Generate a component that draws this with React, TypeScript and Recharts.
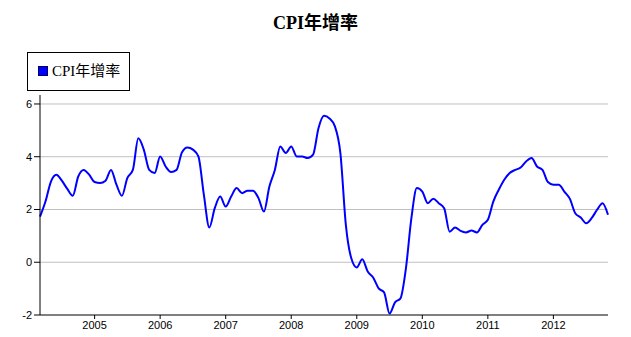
import React from "react";
import { LineChart, Line, XAxis, YAxis, ReferenceLine } from "recharts";

const TITLE = "CPI年增率";
const SERIES_NAME = "CPI年增率";

// Monthly values, 2004-03 .. 2012-11
const cpiValues: number[] = [
  1.73, 2.3, 3.06, 3.32, 3.09, 2.78, 2.52, 3.25, 3.5, 3.32,
  3.04, 3.0, 3.09, 3.5, 2.94, 2.52, 3.2, 3.5, 4.7, 4.27,
  3.5, 3.38, 4.01, 3.63, 3.42, 3.5, 4.17, 4.35, 4.27, 4.01,
  2.56, 1.32, 2.05, 2.49, 2.11, 2.49, 2.81, 2.62, 2.71, 2.71,
  2.43, 1.92, 2.87, 3.5, 4.39, 4.14, 4.39, 4.01, 4.01, 3.95,
  4.08, 5.09, 5.55, 5.45, 5.15, 4.14, 1.42, 0.15, -0.2, 0.11,
  -0.35, -0.58, -0.99, -1.14, -1.94, -1.52, -1.37, -0.23, 1.67, 2.81,
  2.68, 2.24, 2.41, 2.24, 2.05, 1.16, 1.32, 1.19, 1.13, 1.2,
  1.13, 1.42, 1.61, 2.3, 2.75, 3.13, 3.38, 3.5, 3.59, 3.82,
  3.95, 3.63, 3.5, 3.04, 2.94, 2.94, 2.68, 2.41, 1.86, 1.7,
  1.48, 1.67, 1.99, 2.24, 1.8,
];

const yearLabels: string[] = ["2005", "2006", "2007", "2008", "2009", "2010", "2011", "2012"];
const yearTickIndex: number[] = [10, 22, 34, 46, 58, 70, 82, 94];
const yTicks: number[] = [-2, 0, 2, 4, 6];
const gridValues: number[] = [0, 2, 4, 6];

const data = cpiValues.map((v, i) => ({ i, v }));

const tickStyle = { fontFamily: "'Liberation Sans', Arial, sans-serif", fontSize: 11, fill: "#000" };

export default function App() {
  return (
    <div style={{ position: "absolute", left: 0, top: 0, width: 631, height: 337, background: "#fff" }}>
      <div
        style={{
          position: "absolute",
          left: 0,
          width: 631,
          top: 12,
          textAlign: "center",
          fontFamily: "'Liberation Serif', 'Noto Sans CJK SC', serif",
          fontWeight: "bold",
          fontSize: 18,
          lineHeight: "22px",
          color: "#000",
        }}
      >
        {TITLE}
      </div>
      <div
        style={{
          position: "absolute",
          left: 27,
          top: 52,
          width: 101,
          height: 37,
          border: "1px solid #000",
          boxSizing: "content-box",
        }}
      >
        <div
          style={{
            position: "absolute",
            left: 10,
            top: 13,
            width: 8,
            height: 8,
            background: "#0000ff",
            border: "1px solid #000060",
          }}
        />
        <div
          style={{
            position: "absolute",
            left: 24,
            top: 9,
            fontFamily: "'Liberation Serif', 'Noto Sans CJK SC', serif",
            fontSize: 15,
            lineHeight: "18px",
            color: "#000",
            whiteSpace: "nowrap",
          }}
        >
          {SERIES_NAME}
        </div>
      </div>
      <LineChart
        width={631}
        height={337}
        data={data}
        margin={{ top: 95, right: 23, bottom: 0, left: 0 }}
        style={{ position: "absolute", left: 0, top: 0 }}
      >
        <XAxis
          dataKey="i"
          type="number"
          domain={[0, 104]}
          ticks={yearTickIndex}
          tickFormatter={(t: number) => yearLabels[yearTickIndex.indexOf(t)] ?? ""}
          height={22}
          tickSize={4}
          tickMargin={2}
          axisLine={{ stroke: "#000", strokeWidth: 1 }}
          tickLine={{ stroke: "#000" }}
          tick={tickStyle}
          interval={0}
        />
        <YAxis
          type="number"
          domain={[-2, 6.34]}
          ticks={yTicks}
          width={40}
          tickSize={6}
          tickMargin={2}
          axisLine={{ stroke: "#000", strokeWidth: 1 }}
          tickLine={{ stroke: "#000" }}
          tick={tickStyle}
          allowDataOverflow
          interval={0}
        />
        {gridValues.map((g) => (
          <ReferenceLine key={g} y={g} stroke="#c0c0c0" strokeWidth={1} />
        ))}
        <Line
          type="monotone"
          dataKey="v"
          stroke="#0000ff"
          strokeWidth={2}
          dot={false}
          isAnimationActive={false}
        />
      </LineChart>
    </div>
  );
}
